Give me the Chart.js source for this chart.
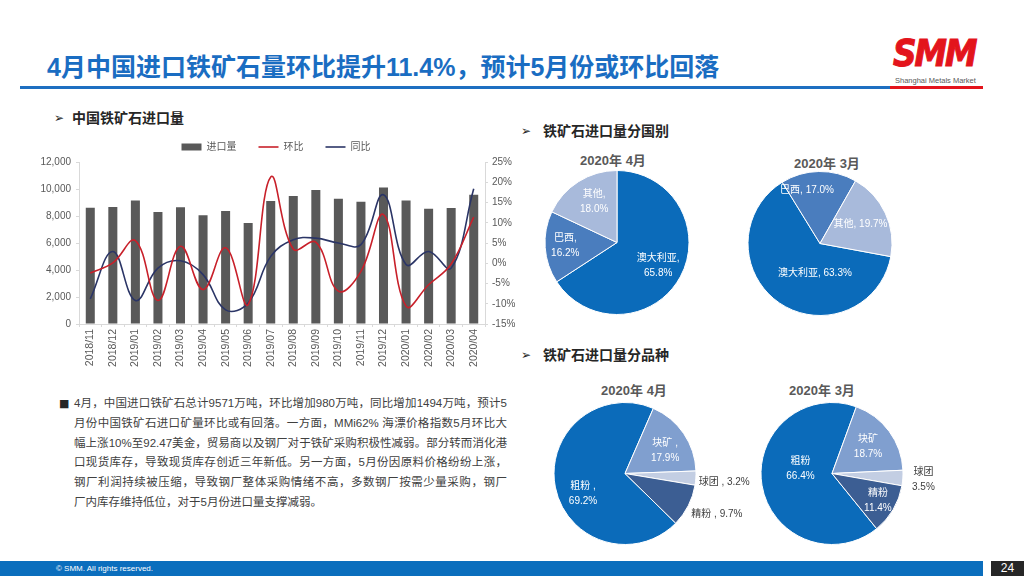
<!DOCTYPE html>
<html>
<head>
<meta charset="utf-8">
<script src="https://cdn.jsdelivr.net/npm/chart.js@4.4.0/dist/chart.umd.min.js"></script>
<style>
html, body { margin: 0; padding: 0; background: #fff; }
body { width: 1024px; height: 576px; position: relative; overflow: hidden;
       font-family: "Liberation Sans", "Noto Sans CJK SC", sans-serif; }
.abs { position: absolute; }
#title { left: 47px; top: 52px; font-size: 25px; line-height: 30px; font-weight: bold; color: #1a6dc2; white-space: nowrap; }
.rule { height: 3px; top: 86px; }
#logo { left: 893px; top: 33px; font-size: 32px; line-height: 36px; font-weight: bold; font-style: italic; color: #e3141c; letter-spacing: -2px;
        font-family: "DejaVu Sans", sans-serif; transform: scale(1.02, 1.15); transform-origin: left top; -webkit-text-stroke: 1px #e3141c; }
#logoSub { left: 895px; top: 76px; font-size: 7.5px; color: #595959; white-space: nowrap; }
.head { font-size: 14px; font-weight: bold; color: #262626; line-height: 18px; white-space: nowrap; }
.arrow { font-size: 12px; line-height: 18px; color: #262626; font-family: "DejaVu Sans", sans-serif; font-weight: bold; }
.ptitle { width: 120px; text-align: center; font-size: 13px; font-weight: bold; color: #595959; line-height: 16px; }
#body { left: 74px; top: 394px; width: 433px; font-size: 11.5px; line-height: 19.8px; color: #404040; }
#body div { text-align: justify; text-align-last: justify; white-space: nowrap; }
#body div.last { text-align-last: left; }
#bullet { left: 59px; top: 397px; font-size: 11px; color: #262626; line-height: 14px; font-family: "DejaVu Sans", sans-serif; }
#foot { left: 0; top: 561px; width: 983px; height: 15px; background: #0b6ebd; }
#footTxt { left: 56px; top: 564px; font-size: 8px; line-height: 10px; color: #fff; white-space: nowrap; }
#page { left: 991px; top: 561px; width: 33px; height: 15px; background: #262626; color: #fff; font-size: 12px; line-height: 15px; text-align: center; }
canvas { position: absolute; }
</style>
</head>
<body>
<div id="title" class="abs">4月中国进口铁矿石量环比提升11.4%，预计5月份或环比回落</div>
<div class="abs rule" style="left:20px;width:870px;background:#1e6fc1;"></div>
<div class="abs rule" style="left:890px;width:93px;background:#e3141c;"></div>
<div id="logo" class="abs">SMM</div>
<div id="logoSub" class="abs">Shanghai Metals Market</div>

<div class="abs arrow" style="left:54px;top:109px;">➢</div>
<div class="abs head" style="left:72px;top:109px;">中国铁矿石进口量</div>
<div class="abs arrow" style="left:521px;top:122px;">➢</div>
<div class="abs head" style="left:543px;top:122px;">铁矿石进口量分国别</div>
<div class="abs arrow" style="left:521px;top:346px;">➢</div>
<div class="abs head" style="left:543px;top:346px;">铁矿石进口量分品种</div>

<div class="abs ptitle" style="left:553px;top:153px;">2020年 4月</div>
<div class="abs ptitle" style="left:767px;top:156px;">2020年 3月</div>
<div class="abs ptitle" style="left:574px;top:383px;">2020年 4月</div>
<div class="abs ptitle" style="left:762px;top:383px;">2020年 3月</div>

<div id="bullet" class="abs">■</div>
<div id="body" class="abs">
  <div>4月，中国进口铁矿石总计9571万吨，环比增加980万吨，同比增加1494万吨，预计5</div>
  <div>月份中国铁矿石进口矿量环比或有回落。一方面，MMi62% 海漂价格指数5月环比大</div>
  <div>幅上涨10%至92.47美金，贸易商以及钢厂对于铁矿采购积极性减弱。部分转而消化港</div>
  <div>口现货库存，导致现货库存创近三年新低。另一方面，5月份因原料价格纷纷上涨，</div>
  <div>钢厂利润持续被压缩，导致钢厂整体采购情绪不高，多数钢厂按需少量采购，钢厂</div>
  <div class="last">厂内库存维持低位，对于5月份进口量支撑减弱。</div>
</div>

<div id="foot" class="abs"></div>
<div id="footTxt" class="abs">© SMM. All rights reserved.</div>
<div id="page" class="abs">24</div>

<canvas id="barChart" width="492" height="258" style="left:30px;top:120px;width:492px;height:258px;"></canvas>
<canvas id="pie1" width="200" height="145" style="left:517px;top:170px;width:200px;height:145px;"></canvas>
<canvas id="pie2" width="200" height="145" style="left:720px;top:171px;width:200px;height:145px;"></canvas>
<canvas id="pie3" width="260" height="143" style="left:495px;top:402px;width:260px;height:143px;"></canvas>
<canvas id="pie4" width="260" height="143" style="left:702px;top:402px;width:260px;height:143px;"></canvas>

<script>
// ===== datos =====
const months = ['2018/11', '2018/12', '2019/01', '2019/02', '2019/03', '2019/04', '2019/05', '2019/06', '2019/07',
                '2019/08', '2019/09', '2019/10', '2019/11', '2019/12', '2020/01', '2020/02', '2020/03', '2020/04'];
const importVol = [8620, 8670, 9140, 8300, 8640, 8050, 8370, 7480, 9110, 9480, 9920, 9280, 9060, 10120, 9140, 8540, 8590, 9571];
const momPct = [-2.4, 0.1, 5.6, -9.2, 4.2, -6.5, 3.8, -10.2, 21.3, 3.5, 5.2, -6.9, -2.0, 12.0, -10.6, -5.3, -0.2, 11.4];
const yoyPct = [-8.8, 2.9, -9.2, -1.2, 0.6, -2.8, -11.5, -9.8, 1.7, 5.8, 6.2, 5.0, 4.6, 16.9, -0.3, 2.9, -1.2, 18.4];

const volTicks = [0, 2000, 4000, 6000, 8000, 10000, 12000];
const pctTicks = [-15, -10, -5, 0, 5, 10, 15, 20, 25];

const countryNames = ['澳大利亚', '巴西', '其他'];
const countryApr = [65.8, 16.2, 18.0];
const countryMar = [63.3, 17.0, 19.7];

const typeNames = ['粗粉', '块矿', '球团', '精粉'];
const typeApr = [69.2, 17.9, 3.2, 9.7];
const typeMar = [66.4, 18.7, 3.5, 11.4];

// ===== grafica de barras =====
const grey = '#595959';
const fontCJK = '"Liberation Sans", "Noto Sans CJK SC", sans-serif';

const legendHeight = {
    id: 'legendHeight',
    beforeInit(chart) {
        const fit = chart.legend.fit;
        chart.legend.fit = function () {
            fit.call(this);
            this.height = 42;
        };
    }
};

new Chart(document.getElementById('barChart'), {
    type: 'bar',
    data: {
        labels: months,
        datasets: [{
            type: 'bar',
            label: '进口量',
            data: importVol,
            backgroundColor: '#595959',
            barPercentage: 0.4,
            categoryPercentage: 1.0,
            yAxisID: 'y',
            order: 2
        }, {
            type: 'line',
            label: '环比',
            data: momPct,
            borderColor: '#c8202a',
            borderWidth: 1.6,
            pointRadius: 0,
            tension: 0.4,
            yAxisID: 'y1',
            order: 1
        }, {
            type: 'line',
            label: '同比',
            data: yoyPct,
            borderColor: '#2b3566',
            borderWidth: 1.6,
            pointRadius: 0,
            tension: 0.4,
            yAxisID: 'y1',
            order: 1
        }]
    },
    options: {
        responsive: false,
        animation: false,
        layout: { padding: 0 },
        plugins: {
            tooltip: { enabled: false },
            legend: {
                position: 'top',
                labels: {
                    usePointStyle: true,
                    pointStyleWidth: 20,
                    boxHeight: 7,
                    padding: 22,
                    color: grey,
                    font: { size: 10, family: fontCJK },
                    sort: (a, b) => a.datasetIndex - b.datasetIndex,
                    generateLabels(chart) {
                        const items = Chart.defaults.plugins.legend.labels.generateLabels(chart);
                        items.forEach(it => {
                            it.pointStyle = chart.data.datasets[it.datasetIndex].type === 'bar' ? 'rect' : 'line';
                        });
                        return items;
                    }
                }
            }
        },
        scales: {
            x: {
                grid: { drawOnChartArea: false, drawTicks: true, tickLength: 3, color: '#d9d9d9' },
                border: { color: '#d9d9d9' },
                ticks: { minRotation: 90, maxRotation: 90, autoSkip: false, padding: 2, color: grey, font: { size: 10.5, family: fontCJK } },
                afterFit: (s) => { s.height = 54; }
            },
            y: {
                position: 'left',
                min: 0, max: 12000,
                afterBuildTicks: (s) => { s.ticks = volTicks.map(v => ({ value: v })); },
                grid: { drawOnChartArea: false, drawTicks: true, tickLength: 3, color: '#d9d9d9' },
                border: { color: '#d9d9d9' },
                ticks: { color: grey, padding: 5, font: { size: 10, family: fontCJK },
                         callback: (v) => v.toLocaleString('en-US') },
                afterFit: (s) => { s.width = 49; }
            },
            y1: {
                position: 'right',
                min: -15, max: 25,
                afterBuildTicks: (s) => { s.ticks = pctTicks.map(v => ({ value: v })); },
                grid: { drawOnChartArea: false, drawTicks: true, tickLength: 3, color: '#d9d9d9' },
                border: { color: '#d9d9d9' },
                ticks: { color: grey, padding: 4, font: { size: 10, family: fontCJK },
                         callback: (v) => v + '%' },
                afterFit: (s) => { s.width = 37; }
            }
        }
    },
    plugins: [legendHeight]
});

// ===== pasteles =====
const pieLabels = {
    id: 'pieLabels',
    afterDatasetsDraw(chart, args, opts) {
        const ctx = chart.ctx;
        const meta = chart.getDatasetMeta(0);
        const names = chart.data.labels;
        const vals = chart.data.datasets[0].data;
        ctx.save();
        ctx.font = '10px ' + fontCJK;
        ctx.textAlign = 'center';
        ctx.textBaseline = 'middle';
        meta.data.forEach((arc, i) => {
            const p = arc.getProps(['x', 'y', 'startAngle', 'endAngle', 'outerRadius'], true);
            const mid = (p.startAngle + p.endAngle) / 2;
            const st = opts.place[i];
            const r = p.outerRadius * st[0];
            const x = p.x + Math.cos(mid) * r + (st[1] || 0);
            const y = p.y + Math.sin(mid) * r + (st[2] || 0);
            const text = names[i] + opts.sep[i] + vals[i].toFixed(1) + '%';
            const lines = text.split('\n');
            ctx.fillStyle = st[0] > 1 ? '#404040' : '#ffffff';
            lines.forEach((ln, k) => {
                ctx.fillText(ln, x, y + (k - (lines.length - 1) / 2) * 15);
            });
        });
        ctx.restore();
    }
};

const dibujarPastel = (id, names, values, colors, rotation, sep, place) => {
    new Chart(document.getElementById(id), {
        type: 'pie',
        data: {
            labels: names,
            datasets: [{
                data: values,
                backgroundColor: colors,
                borderColor: '#ffffff',
                borderWidth: 1
            }]
        },
        options: {
            responsive: false,
            animation: false,
            rotation: rotation,
            layout: { padding: 0 },
            plugins: {
                legend: { display: false },
                tooltip: { enabled: false },
                pieLabels: { sep: sep, place: place }
            }
        },
        plugins: [pieLabels]
    });
};

const countryColors = ['#0b6bba', '#4a7dbe', '#a8badb'];
const typeColors = ['#0b6bba', '#809fcf', '#c3cee3', '#3c5e93'];

dibujarPastel('pie1', countryNames, countryApr, countryColors, 0,
    [',\n', ',\n', ',\n'],
    [[0.65, 0, 1], [0.72, 0, 0], [0.67, 3, 0]]);

dibujarPastel('pie2', countryNames, countryMar, countryColors, 100.5,
    [', ', ', ', ', '],
    [[0.42, 12, 5], [0.74, -12, 0], [0.62, 0, 0]]);

dibujarPastel('pie3', typeNames, typeApr, typeColors, 134.4,
    [' ,\n', ' ,\n', ' , ', ' , '],
    [[0.66, 4, 11], [0.65, 2, 3.5], [1.4, 0, 2], [1.42, 2, -5]]);

dibujarPastel('pie4', typeNames, typeMar, typeColors, 141,
    ['\n', '\n', '\n', '\n'],
    [[0.45, 0, -10], [0.63, 0, 0], [1.29, 0, 0], [0.75, 0, 0]]);
</script>
</body>
</html>
